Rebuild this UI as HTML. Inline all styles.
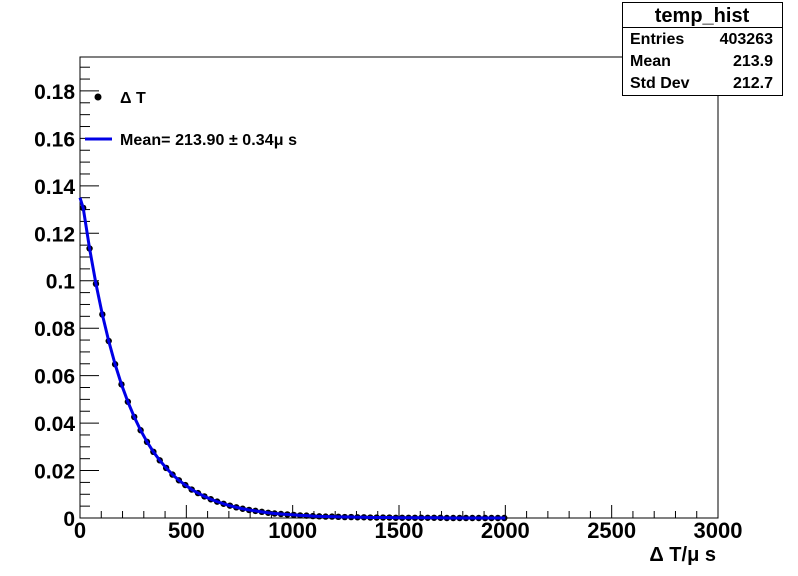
<!DOCTYPE html>
<html><head><meta charset="utf-8"><style>
body{margin:0;background:#fff;}
svg{display:block;font-family:"Liberation Sans",Arial,sans-serif;}
</style></head><body>
<svg id="c" width="798" height="576" viewBox="0 0 798 576">
<rect x="0" y="0" width="798" height="576" fill="#fff"/>
<rect x="80" y="57" width="638" height="461" fill="none" stroke="#000" stroke-width="1"/>
<g id="axes"></g><g id="marks"></g>
<g>
<rect x="622.5" y="2.5" width="160" height="93" fill="#fff" stroke="#000"/>
<line x1="622.5" y1="27.5" x2="782.5" y2="27.5" stroke="#000"/>
<text x="702" y="22" font-size="20" font-weight="bold" text-anchor="middle">temp_hist</text>
<text x="630" y="44" font-size="16" font-weight="bold">Entries</text>
<text x="773" y="44" font-size="16" font-weight="bold" text-anchor="end">403263</text>
<text x="630" y="66" font-size="16" font-weight="bold">Mean</text>
<text x="773" y="66" font-size="16" font-weight="bold" text-anchor="end">213.9</text>
<text x="630" y="88" font-size="16" font-weight="bold">Std Dev</text>
<text x="773" y="88" font-size="16" font-weight="bold" text-anchor="end">212.7</text>
</g>
<g>
<circle cx="98" cy="97" r="3.5" fill="#000"/>
<text x="120" y="103" font-size="16" font-weight="bold">Δ T</text>
<line x1="85" y1="139" x2="112" y2="139" stroke="#0000e6" stroke-width="3"/>
<text x="120" y="145" font-size="16" font-weight="bold" textLength="177">Mean= 213.90 ± 0.34μ s</text>
</g>
<text x="716" y="561" font-size="20" font-weight="bold" text-anchor="end">Δ T/μ s</text>
</svg>
<script>
const binWidth = 30;
const counts = [0.1307,0.1136,0.0987,0.0858,0.0746,0.0648,0.0563,0.0490,0.0426,0.0370,0.0321,0.0279,0.0243,0.0211,0.0183,0.0159,0.0139,0.0120,0.0105,0.0091,0.0079,0.0069,0.0060,0.0052,0.0045,0.0039,0.0034,0.0030,0.0026,0.0022,0.0019,0.0017,0.0015,0.0013,0.0011,0.0010,0.0008,0.0007,0.0006,0.0006,0.0005,0.0004,0.0004,0.0003,0.0003,0.0002,0.0002,0.0002,0.0002,0.0001,0.0001,0.0001,0.0001,0.0001,0.0001,0.0001,0.0001,0,0,0,0,0,0,0,0,0,0];
const fitX = [0,15,45,75,105,135,165,195,225,255,285,315,345,375,405,435,465,495,525,555,585,615,645,675,705,735,765,795,825,855,885,915,945,975,1005,1035,1065,1095,1125,1155,1185,1215,1245,1275,1305,1335,1365,1395,1425,1455,1485,1515,1545,1575,1605,1635,1665,1695,1725,1755,1785,1815,1845,1875,1905,1935,1965,1995,2000];
const fitY = [0.1350,0.1307,0.1136,0.0987,0.0858,0.0746,0.0648,0.0563,0.0490,0.0426,0.0370,0.0321,0.0279,0.0243,0.0211,0.0183,0.0159,0.0139,0.0120,0.0105,0.0091,0.0079,0.0069,0.0060,0.0052,0.0045,0.0039,0.0034,0.0030,0.0026,0.0022,0.0019,0.0017,0.0015,0.0013,0.0011,0.0010,0.0008,0.0007,0.0006,0.0006,0.0005,0.0004,0.0004,0.0003,0.0003,0.0002,0.0002,0.0002,0.0002,0.0001,0.0001,0.0001,0.0001,0.0001,0.0001,0.0001,0.0001,0,0,0,0,0,0,0,0,0,0,0];
const xTicks = [0,500,1000,1500,2000,2500,3000];
const yTicks = [0,0.02,0.04,0.06,0.08,0.1,0.12,0.14,0.16,0.18];
const yTickLabels = ["0","0.02","0.04","0.06","0.08","0.1","0.12","0.14","0.16","0.18"];

const NS="http://www.w3.org/2000/svg";
const X0=80,X1=718,Y0=518,Y1=57,XMAX=3000,YMAX=0.1943;
function sx(v){return X0+v/XMAX*(X1-X0);}
function sy(v){return Y0-v/YMAX*(Y0-Y1);}
function mk(tag,attrs,parent){const e=document.createElementNS(NS,tag);for(const k in attrs)e.setAttribute(k,attrs[k]);parent.appendChild(e);return e;}
const axes=document.getElementById('axes'),marks=document.getElementById('marks');
for(let v=0;v<=XMAX;v+=100){
  const major=v%500===0;
  const t=mk('line',{x1:sx(v),x2:sx(v),y1:Y0,y2:Y0-(major?13:7),stroke:'#000'},axes);
  
  
}
xTicks.forEach(v=>{
  const t=mk('text',{x:sx(v),y:Y0+20,'font-size':22,'font-weight':'bold','text-anchor':'middle'},axes);
  t.textContent=String(v);
  
  
});
for(let v=0;v<=YMAX+1e-9;v+=0.005){
  const major=Math.abs(v/0.02-Math.round(v/0.02))<1e-6;
  const t=mk('line',{x1:X0,x2:X0+(major?19:10),y1:sy(v),y2:sy(v),stroke:'#000'},axes);
  
  
}
yTicks.forEach((v,i)=>{
  const t=mk('text',{x:X0-5,y:sy(v)+8,'font-size':21,'font-weight':'bold','text-anchor':'end'},axes);
  t.textContent=yTickLabels[i];
  
  
});
counts.forEach((c,i)=>{
  const p=mk('circle',{cx:sx((i+0.5)*binWidth),cy:sy(c),r:3.2,fill:'#000'},marks);
  
  
});
const pl=mk('polyline',{points:fitX.map((x,i)=>sx(x)+','+sy(fitY[i])).join(' '),fill:'none',stroke:'#0000e6','stroke-width':3,'stroke-linejoin':'round'},marks);


</script>
</body></html>
